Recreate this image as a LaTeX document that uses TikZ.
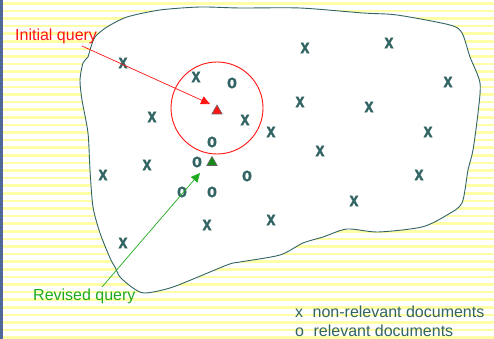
\documentclass[tikz,border=0pt]{standalone}
\usepackage{fontspec}
\setmainfont{Liberation Sans}
\newfontfamily\mkfont[FakeBold=1.2]{Liberation Sans}
\usetikzlibrary{shapes.geometric,arrows.meta}
\definecolor{stripey}{RGB}{255,255,165}
\definecolor{barblue}{RGB}{80,103,154}
\definecolor{ink}{RGB}{50,100,100}
\definecolor{qred}{RGB}{255,20,20}
\definecolor{qgreen}{RGB}{30,170,30}
\tikzset{
  mk/.style={font=\fontsize{16}{19}\mkfont\bfseries, text=ink, inner sep=0pt, yscale=1.22},
  lbl/.style={font=\fontsize{16}{19}\selectfont, inner sep=0pt, anchor=base west},
  qtri/.style={regular polygon, regular polygon sides=3, minimum size=12pt, inner sep=0pt, draw=black!60, line width=0.6pt},
  qarrow/.style={line width=0.7pt, -{Triangle[length=9pt,width=8.5pt]}}
}
\begin{document}
\begin{tikzpicture}[x=1pt,y=-1pt]
\useasboundingbox (0,0) rectangle (494,339);
% background
\fill[white] (0,0) rectangle (494,339);
\foreach \k in {0,...,44} {
  \fill[stripey] (3,{2+7.6*\k}) rectangle (494,{4.6+7.6*\k});
}
\fill[barblue] (0,0) rectangle (3,339);
% blob
\draw[ink, line width=0.9pt, fill=white] plot[smooth cycle, tension=0.45] coordinates {
(90,50) (95,37) (107,27) (127,17) (160,10) (200,7) (240,8) (300,8) (363,13) (397,15)
(450,25) (462,33) (470,57) (480,83) (478,113) (473,150) (468,170) (462,203) (447,215)
(422,227) (378,232) (347,229) (323,237) (303,243) (280,255) (240,262) (227,265)
(173,287) (145,293) (133,288) (120,277) (115,267) (110,258) (100,233) (93,207)
(90,170) (88,133) (82,100) (80,80) (83,63) (88,57)};
% circle
\node[draw=qred, line width=0.9pt, circle, minimum size=92pt, inner sep=0pt] (circ) at (217,108) {};
% non-relevant
\foreach \p [count=\i] in {(123,63),(196,77),(152,117),(147,165),(103,175),(123,243),(207,225),(245,120),(271,132),(271,220),(305,48),(389,43),(448,82),(300,102),(369,107),(320,151),(428,132),(419,175),(354,201)} {
  \node[mk] (x\i) at \p {x};
}
% relevant
\foreach \p [count=\i] in {(232,83),(212,142),(197,162),(182,192),(212,192),(247,176)} {
  \node[mk] (o\i) at \p {o};
}
% queries
\node[qtri, fill=qred] (redq) at (217,111) {};
\node[qtri, fill=qgreen!80!black] (greenq) at (212,162.5) {};
% labels
\node[lbl, text=qred] (init) at (15,41) {Initial query};
\node[lbl, text=qgreen] (rev) at (33,300) {Revised query};
\coordinate (ia) at (82,46);
\coordinate (ib) at (210,104);
\coordinate (ra) at (102,287);
\coordinate (rb) at (200,173);
\draw[qarrow, qred] (ia) -- (ib);
\draw[qarrow, qgreen] (ra) -- (rb);
% legend
\node[lbl, text=ink] (leg1) at (295,317) {x\hspace{9.5pt}non-relevant documents};
\node[lbl, text=ink] (leg2) at (295,336) {o\hspace{9.5pt}relevant documents};
\end{tikzpicture}
\end{document}
